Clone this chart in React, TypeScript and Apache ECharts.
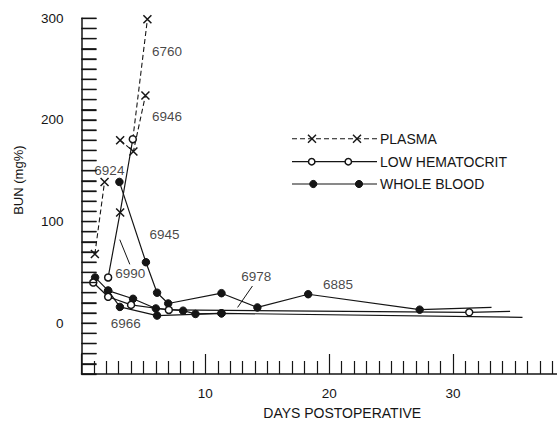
import React, { useEffect, useRef } from "react";
import * as echarts from "echarts";

// ---------- data ----------
const xTickLabels = [10, 20, 30];
const yTickLabels = [0, 100, 200, 300];
const yTickMarks = [-50, -40, -30, -20, -10, 0, 10, 20, 30, 40, 50, 60, 70, 80, 90, 100, 110, 120, 130, 140, 150, 160, 170, 180, 190, 200, 210, 220, 230, 240, 250, 260, 270, 280, 290, 300];

// [day, BUN mg%]
const plasma6924 = [[1.08, 68], [1.86, 139]];
const plasma6946 = [[3.12, 180], [4.19, 169], [5.16, 224]];
const plasma6760 = [[4.14, 181], [5.32, 299]];
const lowHct6990 = [[2.15, 45], [3.12, 109], [4.14, 181]];
const lowHct6966 = [[0.95, 40], [2.15, 26], [4.0, 18], [7.05, 13], [31.3, 10.7], [34.6, 11.6]];
const whole6945 = [[3.06, 139], [5.2, 60], [6.1, 30], [7.0, 19.4], [11.3, 29.5], [14.2, 15.5], [18.3, 28.5], [27.3, 13.3], [33.1, 15.5]];
const whole6978 = [[1.1, 45], [2.15, 32], [3.1, 16], [6.1, 7.5], [11.3, 9.7], [35.6, 5.8]];
const whole6885 = [[2.15, 32], [4.16, 24], [6.0, 14.5], [8.2, 12.3], [9.2, 9.1], [11.3, 9.7]];

// dog number annotations, [day, BUN] of label centres
const dogIds = ["6760", "6946", "6924", "6945", "6990", "6966", "6978", "6885"];
const dogLabelAt = [[6.9, 267.7], [6.9, 203.4], [2.25, 150.3], [6.7, 87], [3.94, 48.5], [3.57, 0], [14.1, 45.8], [20.7, 38]];

// arrows [tail, tip]
const arrow6990 = [[3.9, 57.9], [3.09, 82.2]];
const arrow6978 = [[13.8, 36.6], [12.6, 15.5]];

const legendNames = ["PLASMA", "LOW HEMATOCRIT", "WHOLE BLOOD"];

// ---------- styles ----------
const INK = "#151515";
const FONT = "Liberation Sans";
const crossSym = "path://M0,0L10,10M10,0L0,10";

const kindStyle: any = {
  plasma: {
    symbol: crossSym,
    symbolSize: 8,
    lineStyle: { color: INK, width: 1.1, type: [5, 3] },
    itemStyle: { color: "none", borderColor: INK, borderWidth: 1.5 },
  },
  low: {
    symbol: "circle",
    symbolSize: 7,
    lineStyle: { color: INK, width: 1.2, type: "solid" },
    itemStyle: { color: "#fff", borderColor: INK, borderWidth: 1.5 },
  },
  whole: {
    symbol: "circle",
    symbolSize: 7.5,
    lineStyle: { color: INK, width: 1.2, type: "solid" },
    itemStyle: { color: INK, borderColor: INK, borderWidth: 1 },
  },
};

function lineSeries(name: string, pts: number[][], kind: string, bare: number[] = [], cross: number[] = []) {
  const st = kindStyle[kind];
  return {
    name,
    type: "line",
    data: pts.map((p, i) => {
      if (bare.includes(i)) return { value: p, symbol: "none" };
      if (cross.includes(i))
        return { value: p, symbol: crossSym, symbolSize: 8, itemStyle: { color: "none", borderColor: INK, borderWidth: 1.5 } };
      return { value: p };
    }),
    symbol: st.symbol,
    symbolSize: st.symbolSize,
    showAllSymbol: true,
    lineStyle: st.lineStyle,
    itemStyle: st.itemStyle,
    z: kind === "low" ? 4 : 3,
    silent: true,
  };
}

// the chart canvas is wider than the page: the day axis runs to 40 and is cut at the page edge
const CHART_W = 580;
const PLOT_LEFT = 81.5;
const PLOT_W = 498;

export default function App() {
  const ref = useRef<HTMLDivElement>(null);
  useEffect(() => {
    if (!ref.current) return;
    const chart = echarts.init(ref.current, undefined, { renderer: "svg" });

    const legendRow = (y: number, i: number) => {
      const els: any[] = [];
      if (i === 0) {
        els.push({ type: "line", shape: { x1: 292, y1: y, x2: 377, y2: y }, style: { stroke: INK, lineWidth: 1.1, lineDash: [5, 3] } });
        [312, 357].forEach((cx) => {
          els.push({ type: "line", shape: { x1: cx - 4, y1: y - 4, x2: cx + 4, y2: y + 4 }, style: { stroke: INK, lineWidth: 1.5 } });
          els.push({ type: "line", shape: { x1: cx + 4, y1: y - 4, x2: cx - 4, y2: y + 4 }, style: { stroke: INK, lineWidth: 1.5 } });
        });
      } else if (i === 1) {
        els.push({ type: "line", shape: { x1: 292, y1: y, x2: 377, y2: y }, style: { stroke: INK, lineWidth: 1.2 } });
        [311.7, 348.3].forEach((cx) =>
          els.push({ type: "circle", shape: { cx, cy: y, r: 3.2 }, style: { fill: "#fff", stroke: INK, lineWidth: 1.5 } })
        );
      } else {
        els.push({ type: "line", shape: { x1: 292, y1: y, x2: 377, y2: y }, style: { stroke: INK, lineWidth: 1.2 } });
        [313.3, 359].forEach((cx) =>
          els.push({ type: "circle", shape: { cx, cy: y, r: 3.6 }, style: { fill: INK, stroke: INK, lineWidth: 1 } })
        );
      }
      els.push({
        type: "text",
        x: 380,
        y,
        style: { text: legendNames[i], fill: INK, fontSize: 14, fontFamily: FONT, align: "left", verticalAlign: "middle" },
      });
      return els;
    };

    const option: any = {
      animation: false,
      backgroundColor: "#fff",
      textStyle: { fontFamily: FONT, color: INK },
      grid: { left: PLOT_LEFT, top: 18.3, bottom: 45.7, right: CHART_W - PLOT_LEFT - PLOT_W, containLabel: false },
      xAxis: {
        type: "value",
        min: 0,
        max: 40,
        interval: 10,
        axisLine: { show: true, onZero: false, lineStyle: { color: INK, width: 1.5 } },
        axisTick: { show: true, inside: true, length: 20, lineStyle: { color: INK, width: 1.2 } },
        minorTick: { show: true, splitNumber: 10, length: 13, lineStyle: { color: INK, width: 1.2 } },
        splitLine: { show: false },
        minorSplitLine: { show: false },
        axisLabel: {
          formatter: (v: number) => (xTickLabels.includes(v) ? String(v) : ""),
          margin: 12,
          fontSize: 13.5,
          color: INK,
          fontFamily: FONT,
        },
        name: "DAYS POSTOPERATIVE",
        nameLocation: "middle",
        nameGap: 32,
        nameTextStyle: { fontSize: 14, color: INK, fontFamily: FONT, padding: [0, 0, 0, 26] },
      },
      yAxis: {
        type: "value",
        min: -50,
        max: 300,
        interval: 50,
        axisLine: { show: true, onZero: false, lineStyle: { color: INK, width: 1.5 } },
        axisTick: { show: true, inside: true, length: 15, lineStyle: { color: INK, width: 1.3 } },
        minorTick: { show: true, splitNumber: 5, length: 15, lineStyle: { color: INK, width: 1.3 } },
        splitLine: { show: false },
        minorSplitLine: { show: false },
        axisLabel: {
          formatter: (v: number) => (yTickLabels.includes(v) ? String(v) : ""),
          margin: 18,
          fontSize: 13.5,
          color: INK,
          fontFamily: FONT,
        },
        name: "BUN (mg%)",
        nameLocation: "middle",
        nameGap: 57,
        nameRotate: 90,
        nameTextStyle: { fontSize: 13, color: INK, fontFamily: FONT, padding: [0, 0, 0, 32] },
      },
      series: [
        lineSeries("6924", plasma6924, "plasma"),
        lineSeries("6946", plasma6946, "plasma"),
        lineSeries("6760", plasma6760, "plasma", [0]),
        lineSeries("6945", whole6945, "whole", [8]),
        lineSeries("6978", whole6978, "whole", [5]),
        lineSeries("6885", whole6885, "whole"),
        lineSeries("6990", lowHct6990, "low", [], [1]),
        lineSeries("6966", lowHct6966, "low", [5]),
        {
          name: "labels",
          type: "scatter",
          silent: true,
          symbolSize: 1,
          itemStyle: { color: "rgba(0,0,0,0)" },
          z: 6,
          data: dogLabelAt.map((p, i) => ({ value: p, name: dogIds[i] })),
          label: {
            show: true,
            position: "inside",
            formatter: "{b}",
            fontSize: 13.5,
            color: INK,
            fontFamily: FONT,
          },
          markLine: {
            silent: true,
            symbol: ["none", "arrow"],
            symbolSize: [0, 6],
            label: { show: false },
            lineStyle: { color: INK, width: 1, type: "solid" },
            data: [
              [{ coord: arrow6990[0] }, { coord: arrow6990[1] }],
              [{ coord: arrow6978[0] }, { coord: arrow6978[1] }],
            ],
          },
        },
      ],
    };
    chart.setOption(option);

    // y-axis ticks placed through the axis scale, drawn on top
    const x0 = chart.convertToPixel({ xAxisIndex: 0 }, 0) as number;
    const tickEls = yTickMarks.map((v) => {
      const y = chart.convertToPixel({ yAxisIndex: 0 }, v) as number;
      return {
        type: "line",
        z: 100,
        silent: true,
        shape: { x1: x0, y1: y, x2: x0 + 15, y2: y },
        style: { stroke: INK, lineWidth: 1.3 },
      };
    });
    chart.setOption({
      graphic: [...legendRow(138.7, 0), ...legendRow(161.7, 1), ...legendRow(184, 2), ...tickEls],
    });

    return () => chart.dispose();
  }, []);

  return (
    <div style={{ position: "absolute", left: 0, top: 0, width: 557, height: 425, overflow: "hidden", background: "#fff" }}>
      <div ref={ref} style={{ width: CHART_W, height: 425 }} />
    </div>
  );
}
